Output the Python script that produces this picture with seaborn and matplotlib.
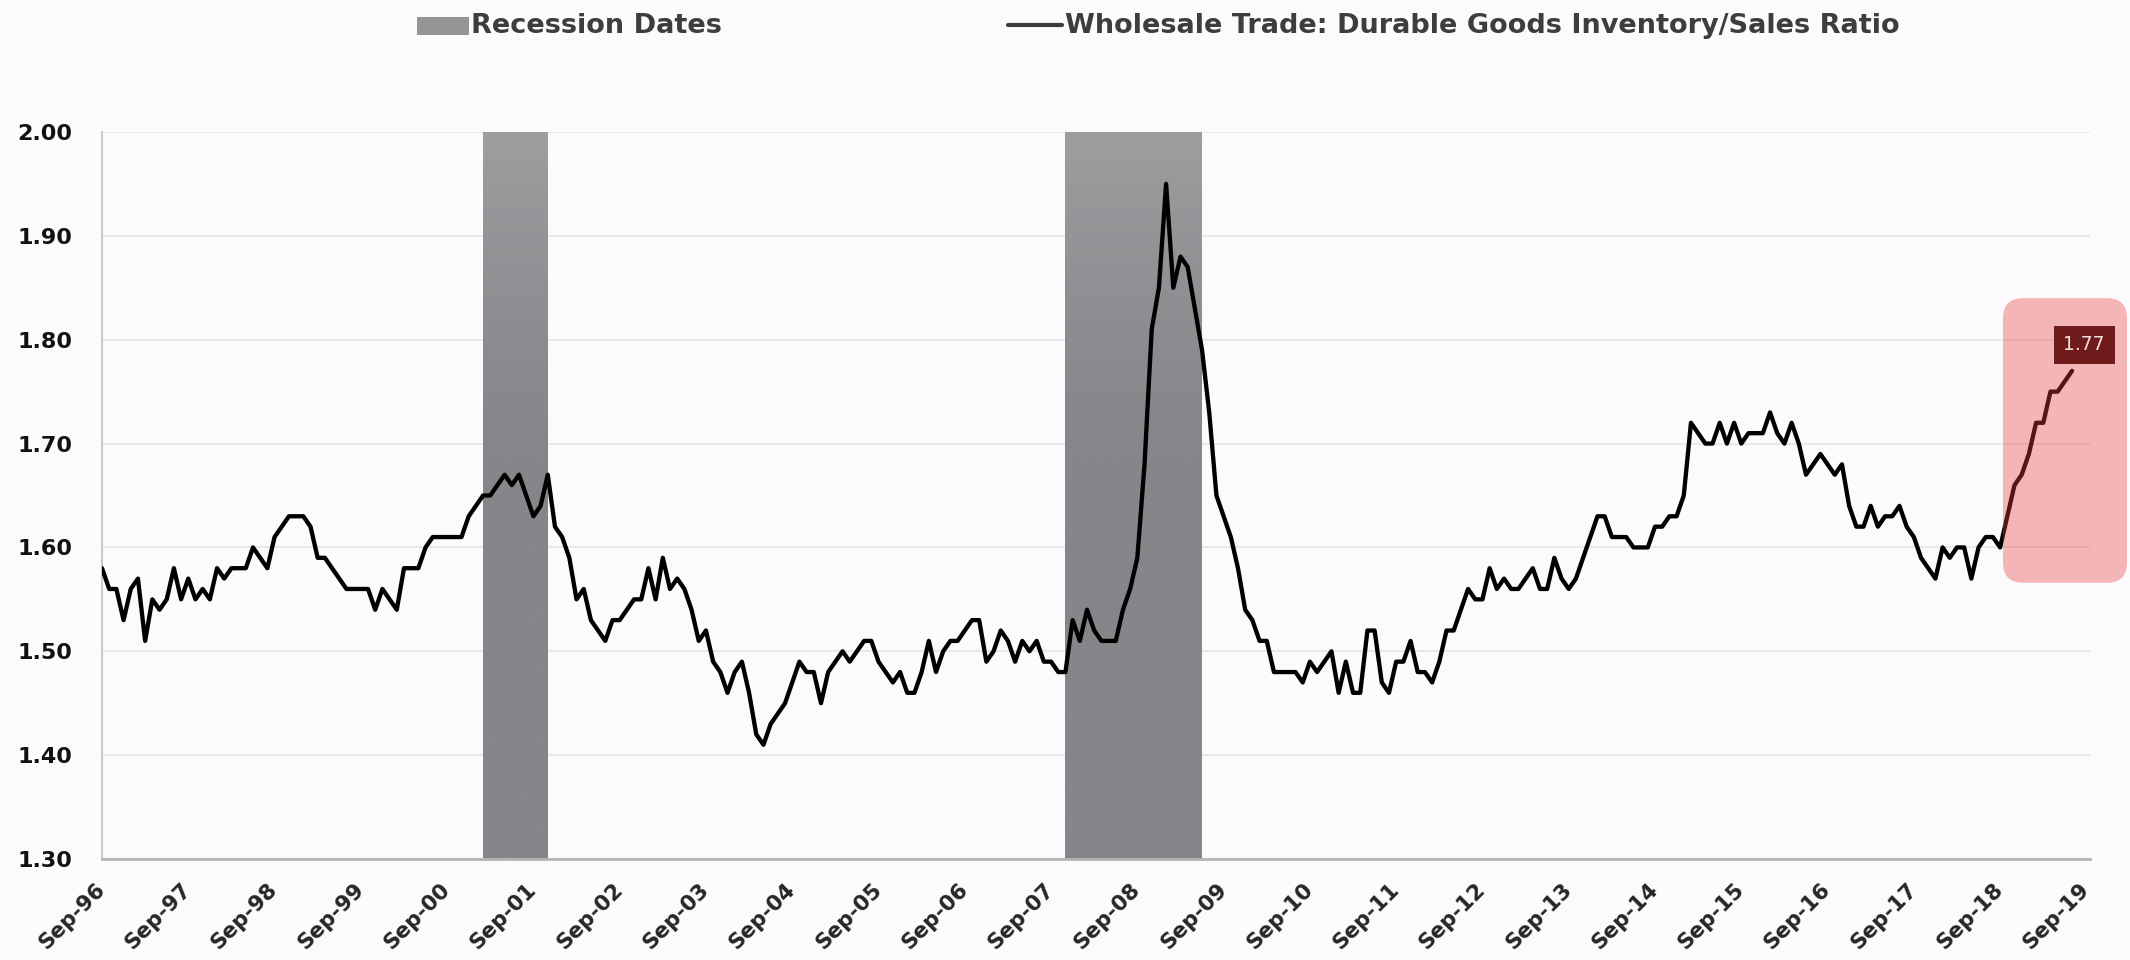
import numpy as np
import pandas as pd
import matplotlib
matplotlib.use("Agg")
import matplotlib.pyplot as plt
from matplotlib.patches import FancyBboxPatch, Rectangle
from matplotlib.lines import Line2D
from matplotlib.transforms import ScaledTranslation
import seaborn as sns

# ---------------------------------------------------------------- data
FIRST_MONTH = "1996-09"

# monthly ratio, one row per Sep..Aug year
inventory_sales_ratio = [
    1.58, 1.56, 1.56, 1.53, 1.56, 1.57, 1.51, 1.55, 1.54, 1.55, 1.58, 1.55,
    1.57, 1.55, 1.56, 1.55, 1.58, 1.57, 1.58, 1.58, 1.58, 1.60, 1.59, 1.58,
    1.61, 1.62, 1.63, 1.63, 1.63, 1.62, 1.59, 1.59, 1.58, 1.57, 1.56, 1.56,
    1.56, 1.56, 1.54, 1.56, 1.55, 1.54, 1.58, 1.58, 1.58, 1.60, 1.61, 1.61,
    1.61, 1.61, 1.61, 1.63, 1.64, 1.65, 1.65, 1.66, 1.67, 1.66, 1.67, 1.65,
    1.63, 1.64, 1.67, 1.62, 1.61, 1.59, 1.55, 1.56, 1.53, 1.52, 1.51, 1.53,
    1.53, 1.54, 1.55, 1.55, 1.58, 1.55, 1.59, 1.56, 1.57, 1.56, 1.54, 1.51,
    1.52, 1.49, 1.48, 1.46, 1.48, 1.49, 1.46, 1.42, 1.41, 1.43, 1.44, 1.45,
    1.47, 1.49, 1.48, 1.48, 1.45, 1.48, 1.49, 1.50, 1.49, 1.50, 1.51, 1.51,
    1.49, 1.48, 1.47, 1.48, 1.46, 1.46, 1.48, 1.51, 1.48, 1.50, 1.51, 1.51,
    1.52, 1.53, 1.53, 1.49, 1.50, 1.52, 1.51, 1.49, 1.51, 1.50, 1.51, 1.49,
    1.49, 1.48, 1.48, 1.53, 1.51, 1.54, 1.52, 1.51, 1.51, 1.51, 1.54, 1.56,
    1.59, 1.68, 1.81, 1.85, 1.95, 1.85, 1.88, 1.87, 1.83, 1.79, 1.73, 1.65,
    1.63, 1.61, 1.58, 1.54, 1.53, 1.51, 1.51, 1.48, 1.48, 1.48, 1.48, 1.47,
    1.49, 1.48, 1.49, 1.50, 1.46, 1.49, 1.46, 1.46, 1.52, 1.52, 1.47, 1.46,
    1.49, 1.49, 1.51, 1.48, 1.48, 1.47, 1.49, 1.52, 1.52, 1.54, 1.56, 1.55,
    1.55, 1.58, 1.56, 1.57, 1.56, 1.56, 1.57, 1.58, 1.56, 1.56, 1.59, 1.57,
    1.56, 1.57, 1.59, 1.61, 1.63, 1.63, 1.61, 1.61, 1.61, 1.60, 1.60, 1.60,
    1.62, 1.62, 1.63, 1.63, 1.65, 1.72, 1.71, 1.70, 1.70, 1.72, 1.70, 1.72,
    1.70, 1.71, 1.71, 1.71, 1.73, 1.71, 1.70, 1.72, 1.70, 1.67, 1.68, 1.69,
    1.68, 1.67, 1.68, 1.64, 1.62, 1.62, 1.64, 1.62, 1.63, 1.63, 1.64, 1.62,
    1.61, 1.59, 1.58, 1.57, 1.60, 1.59, 1.60, 1.60, 1.57, 1.60, 1.61, 1.61,
    1.60, 1.63, 1.66, 1.67, 1.69, 1.72, 1.72, 1.75, 1.75, 1.76, 1.77,
]

recession_periods = [("2001-03", "2001-11"), ("2007-12", "2009-06")]

x_tick_labels = [
    "Sep-96", "Sep-97", "Sep-98", "Sep-99", "Sep-00", "Sep-01", "Sep-02",
    "Sep-03", "Sep-04", "Sep-05", "Sep-06", "Sep-07", "Sep-08", "Sep-09",
    "Sep-10", "Sep-11", "Sep-12", "Sep-13", "Sep-14", "Sep-15", "Sep-16",
    "Sep-17", "Sep-18", "Sep-19",
]
y_tick_values = [1.30, 1.40, 1.50, 1.60, 1.70, 1.80, 1.90, 2.00]

highlight_start = "2018-09"

recession_name = "Recession Dates"
series_name = "Wholesale Trade: Durable Goods Inventory/Sales Ratio"

# ---------------------------------------------------------------- helpers
first = pd.Period(FIRST_MONTH, freq="M")


def month_pos(label):
    return (pd.Period(label, freq="M") - first).n


df = pd.DataFrame({
    "pos": np.arange(len(inventory_sales_ratio)),
    "ratio": inventory_sales_ratio,
})

# ---------------------------------------------------------------- figure
BG = "#fcfafc"
sns.set_theme(style="white")
plt.rcParams["font.family"] = ["DejaVu Sans"]

W_PX, H_PX, DPI = 2130, 960, 100
AX_L, AX_R, AX_T, AX_B = 102, 2090, 132, 859
fig = plt.figure(figsize=(W_PX / DPI, H_PX / DPI), dpi=DPI, facecolor=BG)
ax = fig.add_axes([AX_L / W_PX, 1 - AX_B / H_PX,
                   (AX_R - AX_L) / W_PX, (AX_B - AX_T) / H_PX])
ax.set_facecolor(BG)

X_MAX = 276.5
Y_MIN, Y_MAX = 1.30, 2.00

# recession shading, slightly lighter towards the top
t = np.linspace(0, 1, 256)[:, None]
base_c = np.array([0x86, 0x85, 0x89]) / 255
top_c = np.array([0x9e, 0x9d, 0xa0]) / 255
w = np.clip((t - 0.55) / 0.45, 0, 1) ** 1.3
grad = (base_c + (top_c - base_c) * w)[:, None, :]
for start, end in recession_periods:
    ax.imshow(grad, extent=(month_pos(start) - 1, month_pos(end), Y_MIN, Y_MAX),
              origin="lower", aspect="auto", interpolation="bilinear", zorder=1)

# ratio line
sns.lineplot(data=df, x="pos", y="ratio", ax=ax, color="black", linewidth=3.1,
             estimator=None, zorder=3, solid_joinstyle="round",
             solid_capstyle="round")

# axes styling
ax.set_xlim(0, X_MAX)
ax.set_ylim(Y_MIN, Y_MAX)
ax.set_xlabel("")
ax.set_ylabel("")
ax.set_xticks([12 * i for i in range(len(x_tick_labels))])
ax.set_xticklabels(x_tick_labels, rotation=45, ha="right", va="center",
                   rotation_mode="anchor", fontsize=15.5, fontweight="bold",
                   color="#262626")
shift = ScaledTranslation(9 / DPI, 0, fig.dpi_scale_trans)
for lab in ax.get_xticklabels():
    lab.set_transform(lab.get_transform() + shift)
ax.set_yticks(y_tick_values)
ax.set_yticklabels([f"{v:.2f}" for v in y_tick_values], fontsize=16,
                   fontweight="bold", color="#111111")
ax.tick_params(axis="x", direction="out", length=7.5, width=1.4,
               color="#b5b5b5", pad=12)
ax.tick_params(axis="y", direction="out", length=5.5, width=1.0,
               color="#d0d0d0", pad=16)
ax.yaxis.grid(True, color="#e8e6e8", linewidth=1.3)
ax.xaxis.grid(False)
ax.set_axisbelow(True)
for side in ("top", "right"):
    ax.spines[side].set_visible(False)
ax.spines["left"].set_color("#c4c4c4")
ax.spines["left"].set_linewidth(1.3)
ax.spines["bottom"].set_color("#b5b5b5")
ax.spines["bottom"].set_linewidth(2.0)

# translucent highlight over the latest run-up
px_x = (AX_R - AX_L) / X_MAX
px_y = (AX_B - AX_T) / (Y_MAX - Y_MIN)
radius_px = 20
hi_x0 = month_pos(highlight_start) + 0.4
hi_w = (2127 - (AX_L + hi_x0 * px_x)) / px_x
hi_y0, hi_y1 = 1.566, 1.84
ax.add_patch(FancyBboxPatch(
    (hi_x0, hi_y0), hi_w, hi_y1 - hi_y0,
    boxstyle=f"round,pad=0,rounding_size={radius_px / px_x}",
    mutation_aspect=px_x / px_y,
    fc=(0.91, 0.235, 0.235, 0.36), ec="none", clip_on=False, zorder=4))

# value tag on the last point
last_y = inventory_sales_ratio[-1]
ax.annotate(f"{last_y:.2f}", xy=(len(df) - 1, last_y), xytext=(12, 26),
            textcoords="offset pixels", ha="center", va="center",
            fontsize=13.5, color="#f4dcdc",
            bbox=dict(boxstyle="square,pad=0.52", fc="#6f1b1b", ec="none"),
            zorder=6, annotation_clip=False)

# legend row across the top
fig.add_artist(Rectangle((417 / W_PX, 1 - 35 / H_PX), 52 / W_PX, 18 / H_PX,
                         transform=fig.transFigure, fc="#959497", ec="none"))
fig.text(471 / W_PX, 1 - 26 / H_PX, recession_name, ha="left", va="center",
         fontsize=19.5, fontweight="bold", color="#3d3d3d")
fig.add_artist(Line2D([1008 / W_PX, 1062 / W_PX], [1 - 25 / H_PX] * 2,
                      transform=fig.transFigure, color="#3a3a3a", lw=3))
fig.text(1065 / W_PX, 1 - 26 / H_PX, series_name, ha="left", va="center",
         fontsize=19.5, fontweight="bold", color="#3d3d3d")

fig.savefig("out.png", dpi=DPI, facecolor=BG)
